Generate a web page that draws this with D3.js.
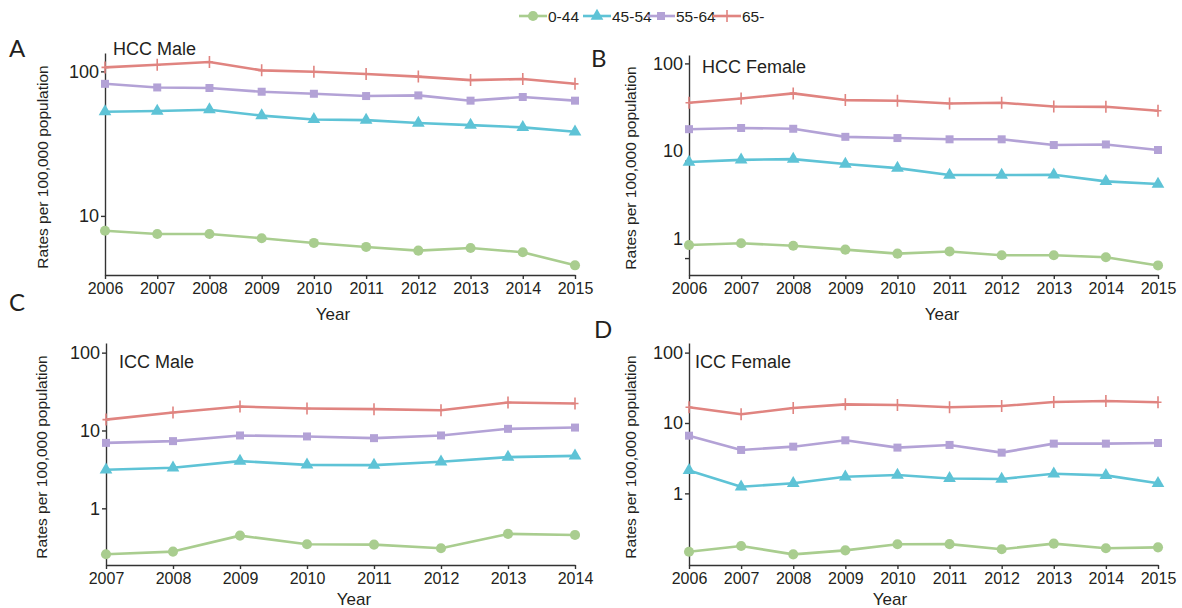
<!DOCTYPE html>
<html>
<head>
<meta charset="utf-8">
<script src="https://cdn.jsdelivr.net/npm/d3@7"></script>
<style>
  html, body { margin: 0; padding: 0; background: #fff; }
  svg { display: block; font-family: "Liberation Sans", Arial, sans-serif; }
  .axis path, .axis line { stroke: #333; stroke-width: 1.4; }
  .axis text { fill: #231f20; font-family: "Liberation Sans", Arial, sans-serif; }
</style>
</head>
<body>
<svg id="chart" width="1182" height="608"></svg>
<script>
// age groups and legend
const groups = ["0-44", "45-54", "55-64", "65-"];
const colors = ["#a9cd8f", "#5ec3d6", "#b3a2d6", "#e08480"];

// years per panel
const yearsHcc = [2006, 2007, 2008, 2009, 2010, 2011, 2012, 2013, 2014, 2015];
const yearsIccMale = [2007, 2008, 2009, 2010, 2011, 2012, 2013, 2014];
const yearsIccFemale = [2006, 2007, 2008, 2009, 2010, 2011, 2012, 2013, 2014, 2015];

// rates per 100,000 (order: 0-44, 45-54, 55-64, 65-)
const hccMale = [
  [7.9, 7.5, 7.5, 7.0, 6.5, 6.1, 5.75, 6.0, 5.6, 4.55],
  [52.6, 53.2, 54.3, 49.4, 46.5, 46.0, 43.9, 42.5, 41.0, 38.2],
  [82, 77.4, 76.7, 72.3, 70, 67.5, 68.2, 62.7, 66.5, 62.7],
  [106.5, 111, 116, 101.6, 99.5, 96, 92, 87, 88.5, 82]
];
const hccFemale = [
  [1.36, 1.42, 1.34, 1.22, 1.11, 1.17, 1.07, 1.07, 1.02, 0.84],
  [9.7, 10.2, 10.4, 9.25, 8.4, 7.13, 7.13, 7.18, 6.14, 5.77],
  [21.1, 21.7, 21.3, 17.6, 17.1, 16.6, 16.6, 14.5, 14.7, 12.9],
  [39.4, 43.6, 49.2, 42, 41.3, 38.8, 39.4, 36.1, 35.8, 32.6]
];
const iccMale = [
  [0.257, 0.278, 0.446, 0.345, 0.342, 0.307, 0.469, 0.455],
  [3.13, 3.32, 4.04, 3.62, 3.59, 3.96, 4.55, 4.72],
  [6.93, 7.3, 8.63, 8.38, 7.97, 8.63, 10.5, 10.9],
  [13.8, 17.0, 20.3, 19.2, 18.8, 18.2, 22.9, 22.2]
];
const iccFemale = [
  [0.148, 0.179, 0.136, 0.155, 0.189, 0.19, 0.161, 0.193, 0.166, 0.171],
  [2.12, 1.24, 1.39, 1.72, 1.82, 1.63, 1.60, 1.90, 1.80, 1.39],
  [6.6, 4.14, 4.61, 5.68, 4.47, 4.88, 3.79, 5.09, 5.09, 5.2],
  [16.7, 13.3, 16.3, 18.4, 18.0, 16.7, 17.4, 19.9, 20.5, 19.7]
];

const yTicks = [1, 10, 100];

// panel layout (pixels) - style only
const panels = [
  { letter: "A", title: "HCC Male", years: yearsHcc, data: hccMale,
    x0: 105, x1: 575, yTop: 53, yBot: 275, dom: [3.9, 134],
    letterPos: [9, 57], titlePos: [113, 55], yTitleX: 43, yearX: 333, yearY: 320, labelShift: {} },
  { letter: "B", title: "HCC Female", years: yearsHcc, data: hccFemale,
    x0: 689, x1: 1158, yTop: 55, yBot: 275, dom: [0.67, 122],
    letterPos: [591, 67], titlePos: [702, 73], yTitleX: 631, yearX: 942, yearY: 320, labelShift: { 10: -10, 1: -19 } },
  { letter: "C", title: "ICC Male", years: yearsIccMale, data: iccMale,
    x0: 106, x1: 575, yTop: 343, yBot: 565, dom: [0.187, 133],
    letterPos: [9, 311], titlePos: [119, 368], yTitleX: 42, yearX: 354, yearY: 605, labelShift: {} },
  { letter: "D", title: "ICC Female", years: yearsIccFemale, data: iccFemale,
    x0: 689, x1: 1158, yTop: 343, yBot: 565, dom: [0.096, 137],
    letterPos: [594, 338], titlePos: [695, 368], yTitleX: 631, yearX: 890, yearY: 605, labelShift: {} }
];

const svg = d3.select("#chart");

function drawMarker(sel, gi, color) {
  if (gi === 3) {
    sel.append("path")
      .attr("d", "M0,-6V6M-3.5,0H3.5")
      .attr("stroke", color).attr("stroke-width", 1.6).attr("fill", "none");
  } else {
    const type = [d3.symbolCircle, d3.symbolTriangle, d3.symbolSquare][gi];
    const size = [80, 70, 64][gi];
    sel.append("path")
      .attr("d", d3.symbol().type(type).size(size)())
      .attr("fill", color);
  }
}

panels.forEach((p) => {
  const x = d3.scalePoint().domain(p.years).range([p.x0, p.x1]);
  const y = d3.scaleLog().domain(p.dom).range([p.yBot, p.yTop]);
  const g = svg.append("g");

  // axes
  const ticks = yTicks.filter((t) => t >= p.dom[0] && t <= p.dom[1]);
  const ya = g.append("g").attr("class", "axis")
    .attr("transform", `translate(${p.x0},0)`)
    .call(d3.axisLeft(y).tickValues(ticks).tickFormat(d3.format("d")).tickSize(4).tickSizeOuter(0).tickPadding(2));
  ya.selectAll("text").attr("font-size", 18)
    .attr("y", (d) => p.labelShift[d] || 0);

  const xa = g.append("g").attr("class", "axis")
    .attr("transform", `translate(0,${p.yBot})`)
    .call(d3.axisBottom(x).tickSize(4).tickSizeOuter(0).tickPadding(4));
  xa.selectAll("text").attr("font-size", 16);

  // lines + markers
  const line = d3.line().x((d, i) => x(p.years[i])).y((d) => y(d));
  p.data.forEach((vals, gi) => {
    g.append("path").datum(vals)
      .attr("d", line)
      .attr("fill", "none")
      .attr("stroke", colors[gi])
      .attr("stroke-width", 2.6)
      .attr("stroke-linejoin", "round");
    vals.forEach((v, i) => {
      const m = g.append("g").attr("transform", `translate(${x(p.years[i])},${y(v)})`);
      drawMarker(m, gi, colors[gi]);
    });
  });

  // texts
  g.append("text").attr("x", p.letterPos[0]).attr("y", p.letterPos[1])
    .attr("font-family", "Lato, 'DejaVu Sans', sans-serif").attr("font-size", 24)
    .attr("fill", "#231f20").text(p.letter);
  g.append("text").attr("x", p.titlePos[0]).attr("y", p.titlePos[1])
    .attr("font-size", 18).attr("fill", "#231f20").text(p.title);
  g.append("text")
    .attr("transform", `translate(${p.yTitleX + 5},${(p.yTop + p.yBot) / 2 + 3}) rotate(-90)`)
    .attr("text-anchor", "middle").attr("font-size", 15.5).attr("fill", "#231f20")
    .text("Rates per 100,000 population");
  g.append("text").attr("x", p.yearX).attr("y", p.yearY)
    .attr("text-anchor", "middle").attr("font-size", 17).attr("fill", "#231f20")
    .text("Year");
});

// legend
const legendX = [519, 583, 647, 713];
const legend = svg.append("g");
groups.forEach((name, gi) => {
  const lg = legend.append("g").attr("transform", `translate(${legendX[gi]},16)`);
  lg.append("line").attr("x1", 0).attr("x2", 28).attr("y1", 0).attr("y2", 0)
    .attr("stroke", colors[gi]).attr("stroke-width", 2.6);
  const m = lg.append("g").attr("transform", "translate(14,0)");
  drawMarker(m, gi, colors[gi]);
  lg.append("text").attr("x", 29).attr("y", 5.5).attr("font-size", 15.5)
    .attr("fill", "#231f20").text(name);
});
</script>
</body>
</html>
